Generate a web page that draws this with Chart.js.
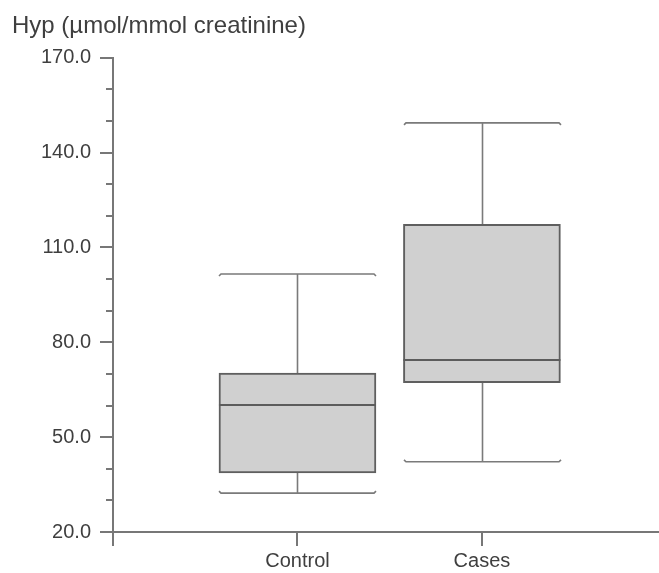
<!DOCTYPE html>
<html><head><meta charset="utf-8">
<script src="https://cdn.jsdelivr.net/npm/chart.js@4.4.1/dist/chart.umd.min.js"></script>
<style>html,body{margin:0;padding:0;background:#fff}#wrap{width:659px;height:573px}</style>
</head><body><div id="wrap"><canvas id="c" width="659" height="573"></canvas></div>
<script>
// ---- data ----
const categories = ['Control', 'Cases'];
const categoryPositions = [1, 2];
const whiskerLow = [32.3, 42.2];
const q1 = [38.7, 67.2];
const median = [60.2, 74.4];
const q3 = [70.3, 117.3];
const whiskerHigh = [101.6, 149.4];
const yLabelValues = [20, 50, 80, 110, 140, 170];
const yTitle = 'Hyp (\u00b5mol/mmol creatinine)';

// ---- styles ----
const FONT = '"Liberation Sans", Arial, Helvetica, sans-serif';
const TEXT = '#3f3f3f';
const AXIS = '#777';

const boxPlugin = {
  id: 'boxwhisker',
  beforeDatasetsDraw(chart) {
    const ctx = chart.ctx, x = chart.scales.x, y = chart.scales.y;
    const meta = chart.getDatasetMeta(0);
    ctx.save();
    ctx.strokeStyle = '#7a7a7a';
    ctx.lineWidth = 1.6;
    categoryPositions.forEach((p, i) => {
      const cx = Math.round(x.getPixelForValue(p)) + 0.5;
      const hw = meta.data[i].width / 2;
      const yHi = y.getPixelForValue(whiskerHigh[i]);
      const yLo = y.getPixelForValue(whiskerLow[i]);
      const yQ3 = y.getPixelForValue(q3[i]);
      const yQ1 = y.getPixelForValue(q1[i]);
      ctx.beginPath();
      ctx.moveTo(cx, yHi); ctx.lineTo(cx, yQ3);
      ctx.moveTo(cx, yQ1); ctx.lineTo(cx, yLo);
      ctx.moveTo(cx - hw, yHi + 2); ctx.lineTo(cx - hw + 2, yHi); ctx.lineTo(cx + hw - 2, yHi); ctx.lineTo(cx + hw, yHi + 2);
      ctx.moveTo(cx - hw, yLo - 2); ctx.lineTo(cx - hw + 2, yLo); ctx.lineTo(cx + hw - 2, yLo); ctx.lineTo(cx + hw, yLo - 2);
      ctx.stroke();
    });
    ctx.restore();
  },
  afterDatasetsDraw(chart) {
    const ctx = chart.ctx, x = chart.scales.x, y = chart.scales.y;
    const meta = chart.getDatasetMeta(0);
    ctx.save();
    ctx.strokeStyle = '#5c5c5c';
    ctx.lineWidth = 2;
    categoryPositions.forEach((p, i) => {
      const cx = x.getPixelForValue(p);
      const hw = meta.data[i].width / 2;
      const ym = Math.round(y.getPixelForValue(median[i]));
      ctx.beginPath();
      ctx.moveTo(cx - hw, ym); ctx.lineTo(cx + hw, ym);
      ctx.stroke();
    });
    ctx.strokeStyle = AXIS;
    ctx.lineWidth = 2;
    const left = chart.chartArea.left;
    for (let v = y.min; v <= y.max; v += 10) {
      if (yLabelValues.includes(v)) continue;
      const py = Math.round(y.getPixelForValue(v));
      ctx.beginPath();
      ctx.moveTo(left - 7, py); ctx.lineTo(left, py);
      ctx.stroke();
    }
    ctx.restore();
  }
};

new Chart(document.getElementById('c'), {
  type: 'bar',
  data: {
    datasets: [{
      data: categoryPositions.map((p, i) => ({ x: p, y: [q1[i], q3[i]] })),
      backgroundColor: '#d0d0d0',
      borderColor: '#5f5f5f',
      borderWidth: 2,
      borderSkipped: false,
      barThickness: 157
    }]
  },
  options: {
    responsive: false,
    animation: false,
    devicePixelRatio: 1,
    layout: { padding: { left: 12, top: 0, right: 0, bottom: 0 } },
    plugins: {
      legend: { display: false },
      tooltip: { enabled: false },
      title: {
        display: true, text: yTitle, align: 'start', color: TEXT,
        font: { family: FONT, size: 24, weight: 'normal', lineHeight: 1.2 },
        padding: { top: 12, bottom: 17 }
      }
    },
    scales: {
      x: {
        type: 'linear', min: 0, max: 2.96, offset: false,
        afterBuildTicks(s) { s.ticks = [0, ...categoryPositions].map(v => ({ value: v })); },
        afterFit(s) { s.height = 41; },
        ticks: {
          autoSkip: false, maxRotation: 0, padding: 3, color: TEXT,
          font: { family: FONT, size: 20 },
          callback(v) { const i = categoryPositions.indexOf(v); return i >= 0 ? categories[i] : ''; }
        },
        grid: { offset: false, drawOnChartArea: false, drawTicks: true, tickLength: 14, color: AXIS, lineWidth: 2 },
        border: { display: true, color: AXIS, width: 2 }
      },
      y: {
        type: 'linear', min: 20, max: 170,
        afterFit(s) { s.width = 101; },
        ticks: {
          stepSize: 10, autoSkip: false, padding: 9, color: TEXT,
          font: { family: FONT, size: 20 },
          callback(v) { return yLabelValues.includes(v) ? v.toFixed(1) : ''; }
        },
        grid: {
          drawOnChartArea: false, drawTicks: true, tickLength: 13, lineWidth: 2,
          tickColor: (c) => (c.tick && yLabelValues.includes(c.tick.value)) ? AXIS : 'rgba(0,0,0,0)'
        },
        border: { display: true, color: AXIS, width: 2 }
      }
    }
  },
  plugins: [boxPlugin]
});
</script></body></html>
